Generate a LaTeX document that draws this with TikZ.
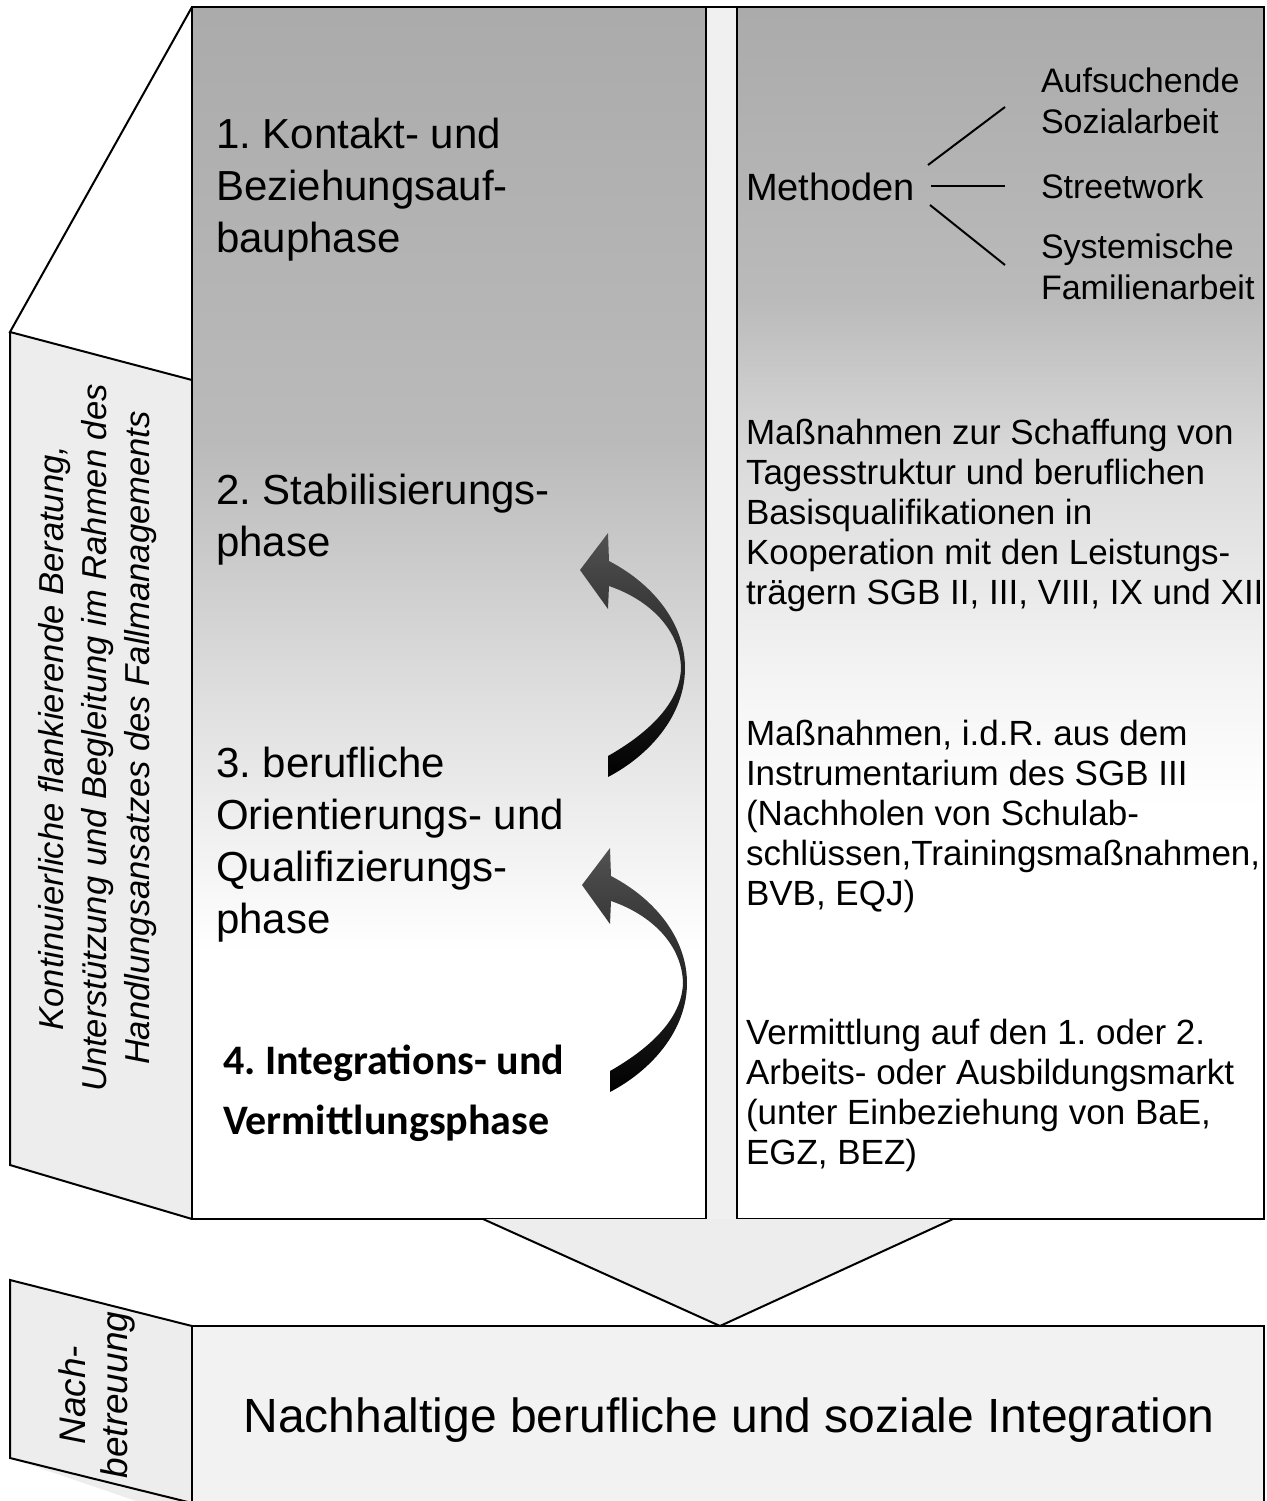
\documentclass[tikz,border=0pt]{standalone}
\usepackage{fontspec}
\setmainfont{Liberation Sans}
\newfontfamily\calfont{Carlito}
\frenchspacing
\pgfdeclareverticalshading{leftshade}{100bp}{color(0bp)=(white); color(36bp)=(white); color(46bp)=(black!12); color(57bp)=(black!27); color(75bp)=(black!33); color(100bp)=(black!33)}
\pgfdeclareverticalshading{rightshade}{100bp}{color(0bp)=(white); color(42bp)=(white); color(48bp)=(black!5); color(56bp)=(black!14); color(63bp)=(black!27); color(75bp)=(black!33); color(100bp)=(black!33)}
\begin{document}
\frenchspacing
\begin{tikzpicture}[x=0.5pt,y=-0.5pt,line width=1pt,
  frame/.style={draw=black,line width=1pt},
  lightfill/.style={fill=black!7},
  phase/.style={anchor=base west,align=left,inner sep=0pt,font=\fontsize{21}{26}\selectfont},
  phasebold/.style={anchor=base west,align=left,inner sep=0pt,font=\calfont\bfseries\fontsize{21}{30}\selectfont},
  meth/.style={anchor=base west,inner sep=0pt,font=\fontsize{19}{22}\selectfont},
  listtext/.style={anchor=base west,align=left,inner sep=0pt,font=\fontsize{17}{20.5}\selectfont},
  desc/.style={anchor=base west,align=left,inner sep=0pt,font=\fontsize{17.5}{20}\selectfont},
  sidetext/.style={rotate=90,align=center,inner sep=0pt,font=\itshape\fontsize{17.3}{21.5}\selectfont},
  curvearrow/.style={top color=black!68,bottom color=black,draw=none}]
\useasboundingbox (0,0) rectangle (1267,1501);
\clip (0,0) rectangle (1267,1501);
% side face of upper block
\path[lightfill] (10,332) -- (192,380) -- (192,1219) -- (10,1165) -- cycle;
\draw[frame] (192,380) -- (10,332) -- (192,7);
\draw[frame] (10,332) -- (10,1165) -- (192,1219);
% gap column between boxes
\path[fill=black!6] (706,7) rectangle (737,1219);
% left and right boxes
\shade[shading=leftshade] (192,7) rectangle (706,1219);
\shade[shading=rightshade] (737,7) rectangle (1264,1219);
\draw[frame] (192,7) rectangle (706,1219);
\draw[frame] (737,7) rectangle (1264,1219);
\draw[frame] (706,7) -- (737,7);
% funnel triangle
\path[lightfill] (483,1219) -- (720,1326) -- (953,1219) -- cycle;
\draw[frame] (483,1219) -- (720,1326) -- (953,1219);
% bottom box and side face
\path[lightfill] (10,1280) -- (192,1326) -- (192,1520) -- (10,1458) -- cycle;
\draw[frame] (192,1326) -- (10,1280) -- (10,1458) -- (192,1503);
\path[fill=black!5] (192,1326) rectangle (1264,1520);
\draw[frame] (192,1520) -- (192,1326) -- (1264,1326) -- (1264,1520);
% curved arrows
\foreach \dy/\dx in {0/0,315/2}{
\begin{scope}[shift={(\dx,\dy)}]
\shade[curvearrow] (580,570) -- (608,533) -- (609,561)
  .. controls (655,585) and (685,625) .. (685,668)
  .. controls (685,715) and (650,755) .. (608,777)
  -- (608,756)
  .. controls (645,735) and (680,705) .. (681,668)
  .. controls (680,630) and (650,600) .. (609,586)
  -- (608,609) -- cycle;
\end{scope}}
% phase texts (anchored at the baseline of the last line)
\node[phase] (p1) at (215,252) {1. Kontakt- und\\Beziehungsauf-\\bauphase};
\node[phase] (p2) at (215,556) {2. Stabilisierungs-\\phase};
\node[phase] (p3) at (215,933) {3. berufliche\\Orientierungs- und\\Qualifizierungs-\\phase};
\node[phasebold] (p4) at (222,1134) {4. Integrations- und\\Vermittlungsphase};
% methods
\node[meth] (meth) at (745,200) {Methoden};
\node[listtext] (auf) at (1040,133) {Aufsuchende\\Sozialarbeit};
\node[listtext] (street) at (1040,198) {Streetwork};
\node[listtext] (sys) at (1040,299) {Systemische\\Familienarbeit};
\coordinate (m1) at (928,165);
\coordinate (m2) at (931,186);
\coordinate (m3) at (930,205);
\coordinate (a1) at (1005,107);
\coordinate (a2) at (1005,186);
\coordinate (a3) at (1005,265);
\draw (m1) -- (a1);
\draw (m2) -- (a2);
\draw (m3) -- (a3);
% descriptions
\node[desc] (d1) at (745,604) {Maßnahmen zur Schaffung von\\Tagesstruktur und beruflichen\\Basisqualifikationen in\\Kooperation mit den Leistungs-\\trägern SGB II, III, VIII, IX und XII};
\node[desc] (d2) at (745,905) {Maßnahmen, i.d.R. aus dem\\Instrumentarium des SGB III\\(Nachholen von Schulab-\\schlüssen,Trainingsmaßnahmen,\\BVB, EQJ)};
\node[desc] (d3) at (745,1164) {Vermittlung auf den 1. oder 2.\\Arbeits- oder Ausbildungsmarkt\\(unter Einbeziehung von BaE,\\EGZ, BEZ)};
% bottom
\node[anchor=base,inner sep=0pt,font=\fontsize{24}{28}\selectfont] (integ) at (729,1432) {Nachhaltige berufliche und soziale Integration};
% side labels
\node[sidetext] (side) at (98,738) {Kontinuierliche flankierende Beratung,\\Unterstützung und Begleitung im Rahmen des\\Handlungsansatzes des Fallmanagements};
\node[sidetext,font=\itshape\fontsize{18.5}{21}\selectfont] (nb) at (97,1395) {Nach-\\betreuung};
\end{tikzpicture}
\end{document}
